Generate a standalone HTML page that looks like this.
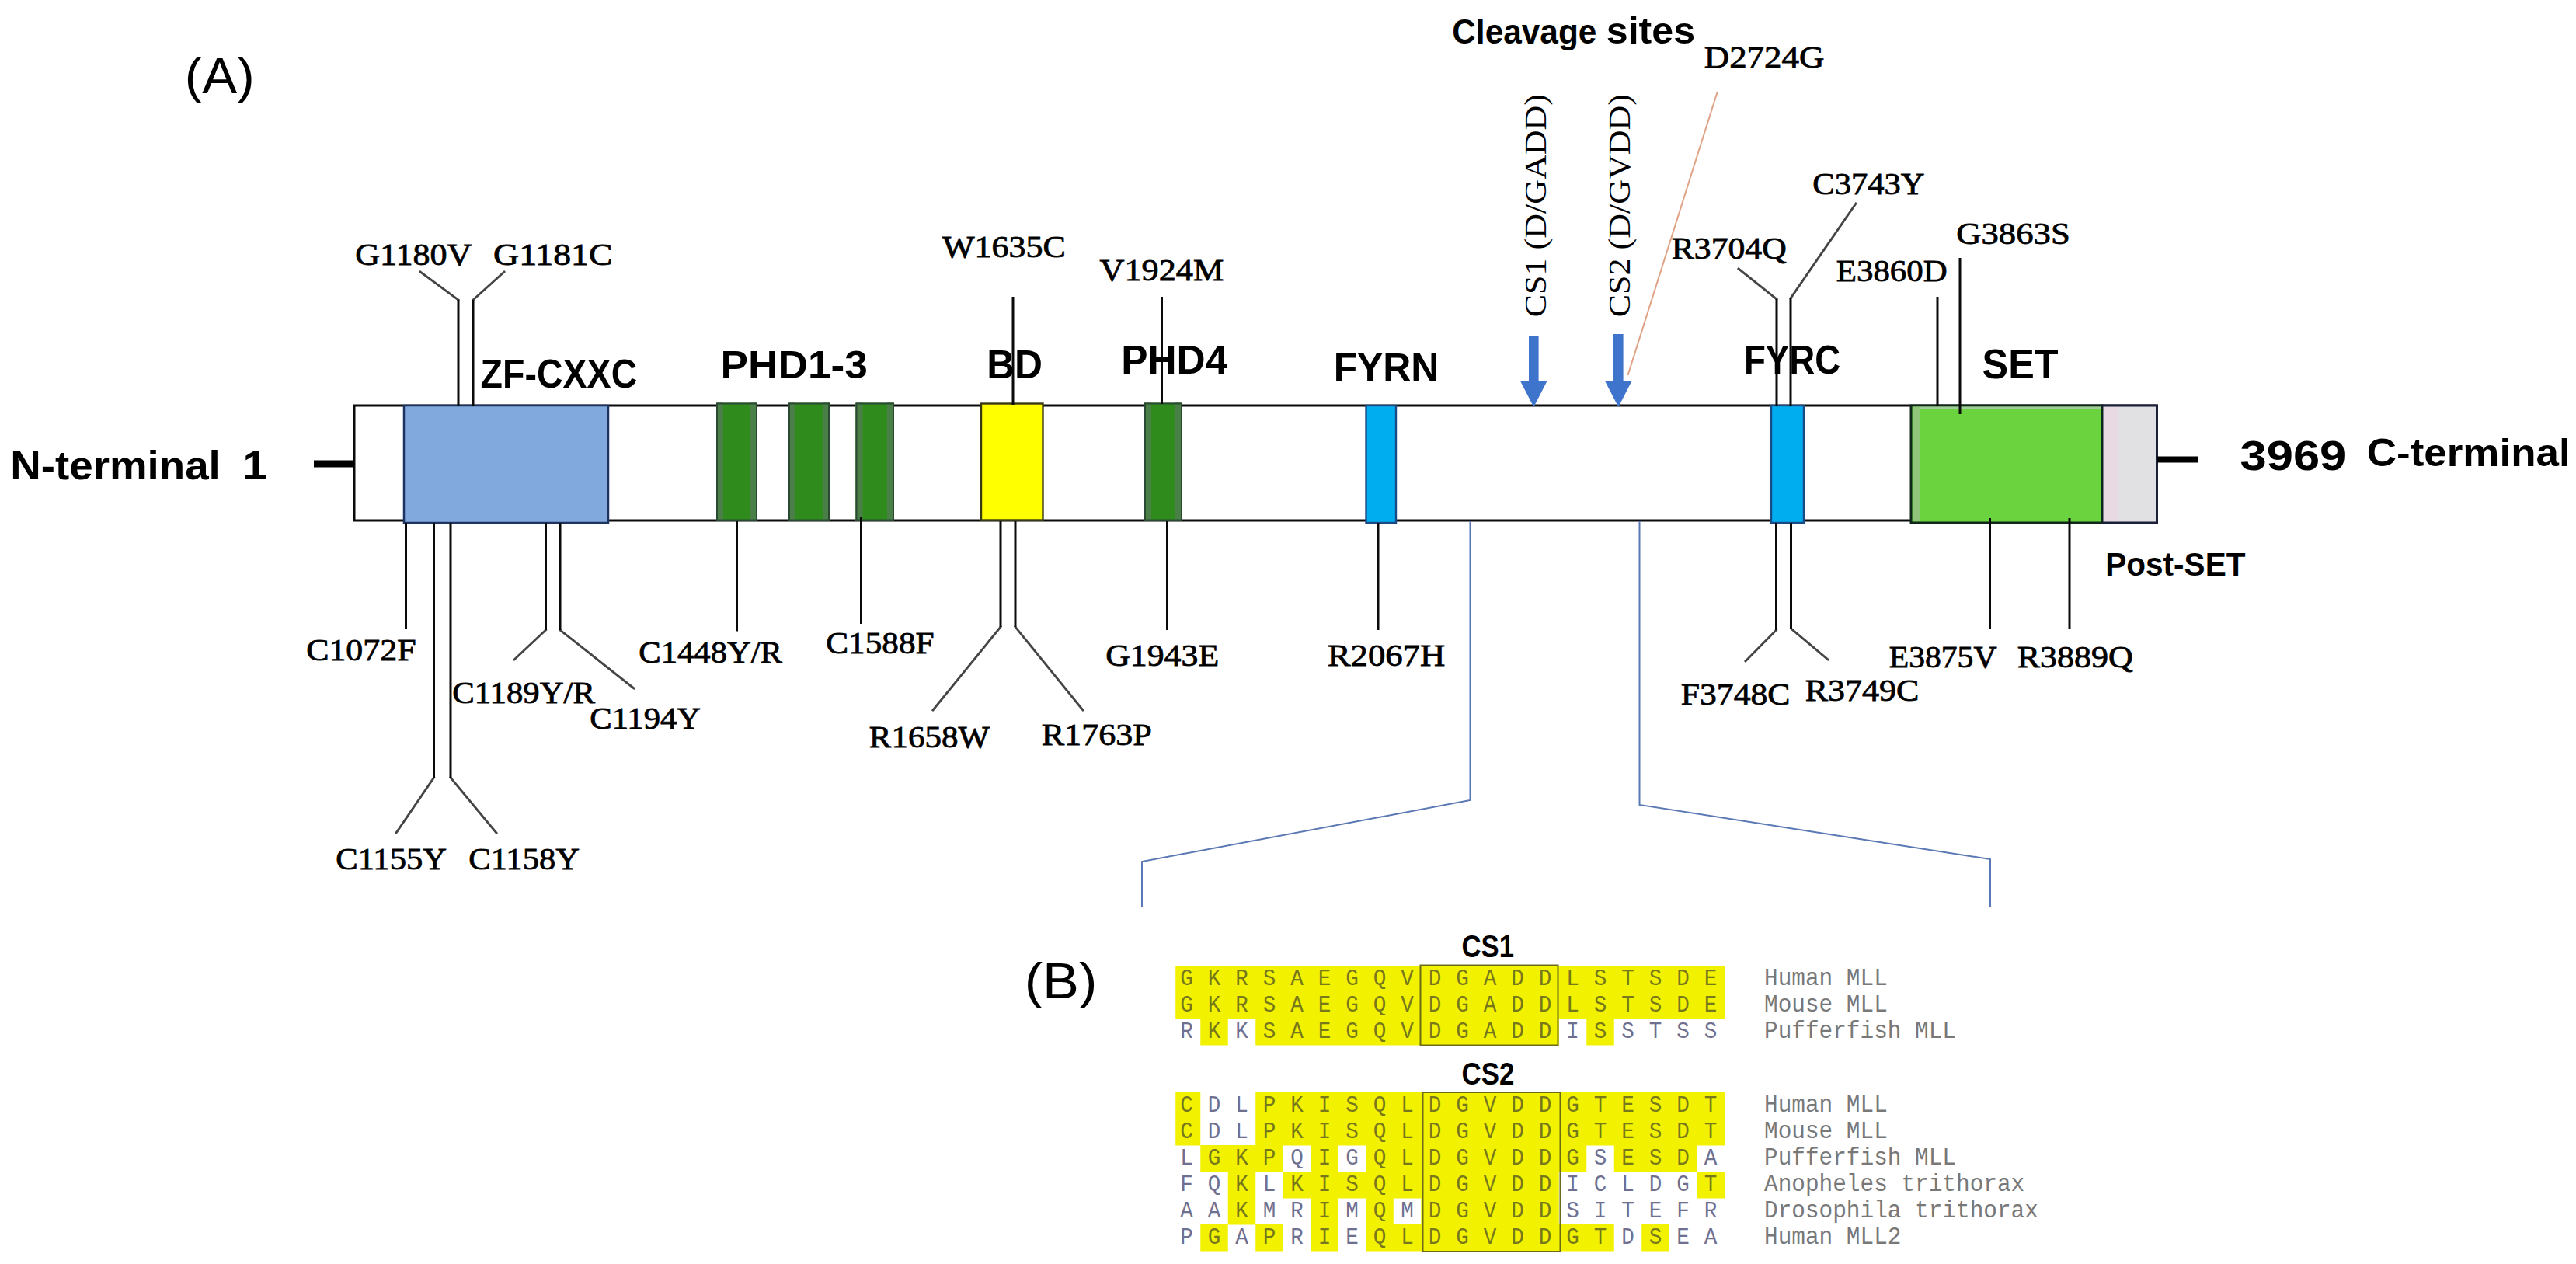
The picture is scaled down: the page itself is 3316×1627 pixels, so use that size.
<!DOCTYPE html>
<html><head><meta charset="utf-8"><title>MLL domain structure</title>
<style>
html,body{margin:0;padding:0;background:#fff;}
body{width:3316px;height:1627px;overflow:hidden;font-family:"Liberation Sans",sans-serif;}
svg{display:block;}
text{white-space:pre;}
</style></head><body>
<svg width="3316" height="1627" viewBox="0 0 3316 1627">
<rect width="3316" height="1627" fill="#fff"/>
<rect x="456" y="522" width="2320" height="148" fill="#fff" stroke="#0a0a0a" stroke-width="3" />
<rect x="520" y="522" width="263" height="151" fill="#82a9dd" stroke="#1d3461" stroke-width="2.5" />
<rect x="922" y="518.5" width="53" height="151.5" fill="#2f8c1c"  />
<rect x="922" y="518.5" width="9" height="151.5" fill="#4a8048"  />
<rect x="966" y="518.5" width="9" height="151.5" fill="#4a8048"  />
<rect x="923" y="519.5" width="51" height="150.0" fill="none" stroke="#2b4a34" stroke-width="2" />
<rect x="1015" y="518.5" width="53" height="151.5" fill="#2f8c1c"  />
<rect x="1015" y="518.5" width="9" height="151.5" fill="#4a8048"  />
<rect x="1059" y="518.5" width="9" height="151.5" fill="#4a8048"  />
<rect x="1016" y="519.5" width="51" height="150.0" fill="none" stroke="#2b4a34" stroke-width="2" />
<rect x="1101.5" y="518.5" width="49.5" height="151.5" fill="#2f8c1c"  />
<rect x="1101.5" y="518.5" width="9.0" height="151.5" fill="#4a8048"  />
<rect x="1142" y="518.5" width="9" height="151.5" fill="#4a8048"  />
<rect x="1102.5" y="519.5" width="47.5" height="150.0" fill="none" stroke="#2b4a34" stroke-width="2" />
<rect x="1473" y="518.5" width="49" height="151.5" fill="#2f8c1c"  />
<rect x="1473" y="518.5" width="9" height="151.5" fill="#4a8048"  />
<rect x="1513" y="518.5" width="9" height="151.5" fill="#4a8048"  />
<rect x="1474" y="519.5" width="47" height="150.0" fill="none" stroke="#2b4a34" stroke-width="2" />
<rect x="1263" y="519.5" width="79.5" height="150.0" fill="#ffff00" stroke="#3a3a14" stroke-width="2.4" />
<rect x="1758.5" y="522" width="38.5" height="151" fill="#00adef" stroke="#1a4a86" stroke-width="2.4" />
<rect x="2280" y="522" width="42" height="151" fill="#00adef" stroke="#1a4a86" stroke-width="2.4" />
<rect x="2460" y="522" width="246" height="151" fill="#6bd33d" stroke="#10281a" stroke-width="3" />
<rect x="2462" y="523.5" width="242" height="3.5" fill="#a3c99c"  />
<rect x="2462" y="524" width="10" height="147" fill="#8fc47a"  />
<rect x="2706" y="522" width="70.5" height="151" fill="#e1e0e2" stroke="#1a1f3a" stroke-width="3" />
<rect x="2708" y="524" width="18" height="147" fill="#e8d9e3"  />
<line x1="2705.5" y1="522" x2="2705.5" y2="673" stroke="#10281a" stroke-width="3" />
<line x1="404" y1="597" x2="456" y2="597" stroke="#000" stroke-width="9" />
<line x1="2777" y1="591.5" x2="2829" y2="591.5" stroke="#000" stroke-width="8" />
<line x1="541" y1="350" x2="590" y2="386" stroke="#454545" stroke-width="2.9" stroke-linecap="square"/>
<polyline points="590,386 590,522" fill="none" stroke="#0a0a0a" stroke-width="3"/>
<line x1="649" y1="350" x2="609" y2="386" stroke="#454545" stroke-width="2.9" stroke-linecap="square"/>
<polyline points="609,386 609,522" fill="none" stroke="#0a0a0a" stroke-width="3"/>
<line x1="1304" y1="382" x2="1304" y2="521" stroke="#0a0a0a" stroke-width="3" />
<line x1="1495.5" y1="382" x2="1495.5" y2="520" stroke="#0a0a0a" stroke-width="3" />
<line x1="2238" y1="346" x2="2287" y2="385" stroke="#454545" stroke-width="2.9" stroke-linecap="square"/>
<polyline points="2287,385 2287,522" fill="none" stroke="#0a0a0a" stroke-width="3"/>
<line x1="2389" y1="262" x2="2305" y2="384" stroke="#454545" stroke-width="2.9" stroke-linecap="square"/>
<polyline points="2305,384 2305,522" fill="none" stroke="#0a0a0a" stroke-width="3"/>
<line x1="2494" y1="382" x2="2494" y2="522" stroke="#0a0a0a" stroke-width="3" />
<line x1="2523" y1="332" x2="2523" y2="533" stroke="#0a0a0a" stroke-width="3" />
<line x1="522.5" y1="673" x2="522.5" y2="810" stroke="#0a0a0a" stroke-width="3" />
<line x1="510" y1="1072" x2="558.5" y2="1001" stroke="#454545" stroke-width="2.9" stroke-linecap="square"/>
<polyline points="558.5,1001 558.5,673" fill="none" stroke="#0a0a0a" stroke-width="3"/>
<line x1="639" y1="1072" x2="580" y2="1001" stroke="#454545" stroke-width="2.9" stroke-linecap="square"/>
<polyline points="580,1001 580,673" fill="none" stroke="#0a0a0a" stroke-width="3"/>
<line x1="662" y1="849" x2="702.5" y2="811" stroke="#454545" stroke-width="2.9" stroke-linecap="square"/>
<polyline points="702.5,811 702.5,673" fill="none" stroke="#0a0a0a" stroke-width="3"/>
<line x1="816" y1="886" x2="721" y2="811" stroke="#454545" stroke-width="2.9" stroke-linecap="square"/>
<polyline points="721,811 721,673" fill="none" stroke="#0a0a0a" stroke-width="3"/>
<line x1="948.5" y1="670" x2="948.5" y2="812.5" stroke="#0a0a0a" stroke-width="3" />
<line x1="1108.5" y1="665" x2="1108.5" y2="803" stroke="#0a0a0a" stroke-width="3" />
<line x1="1201" y1="914" x2="1288" y2="807" stroke="#454545" stroke-width="2.9" stroke-linecap="square"/>
<polyline points="1288,807 1288,670" fill="none" stroke="#0a0a0a" stroke-width="3"/>
<line x1="1394" y1="914" x2="1307" y2="807" stroke="#454545" stroke-width="2.9" stroke-linecap="square"/>
<polyline points="1307,807 1307,670" fill="none" stroke="#0a0a0a" stroke-width="3"/>
<line x1="1502.5" y1="670" x2="1502.5" y2="811" stroke="#0a0a0a" stroke-width="3" />
<line x1="1774" y1="673" x2="1774" y2="811" stroke="#0a0a0a" stroke-width="3" />
<line x1="2247" y1="851" x2="2286.5" y2="811" stroke="#454545" stroke-width="2.9" stroke-linecap="square"/>
<polyline points="2286.5,811 2286.5,673" fill="none" stroke="#0a0a0a" stroke-width="3"/>
<line x1="2353" y1="849" x2="2305.5" y2="809" stroke="#454545" stroke-width="2.9" stroke-linecap="square"/>
<polyline points="2305.5,809 2305.5,673" fill="none" stroke="#0a0a0a" stroke-width="3"/>
<line x1="2561.5" y1="667" x2="2561.5" y2="809.5" stroke="#0a0a0a" stroke-width="3" />
<line x1="2664" y1="667" x2="2664" y2="809.5" stroke="#0a0a0a" stroke-width="3" />
<polyline points="1892.5,671 1892.5,1030 1470,1109 1470,1167" fill="none" stroke="#5a78b4" stroke-width="2" />
<polyline points="2110.5,671 2110.5,1036 2562,1106 2562,1167" fill="none" stroke="#5a78b4" stroke-width="2" />
<line x1="2210.5" y1="119" x2="2095.5" y2="483" stroke="#e0a285" stroke-width="2" />
<path d="M1968.0,432 H1980.6 V490 H1991.8 L1974.3,524 L1956.8,490 H1968.0 Z" fill="#3f74cd"/>
<path d="M2077.0,430 H2089.6000000000004 V490 H2100.8 L2083.3,524 L2065.8,490 H2077.0 Z" fill="#3f74cd"/>
<text transform="translate(237.82,120.00) scale(1.0422,1)" font-family="Liberation Sans" font-weight="normal" font-size="64.68" fill="#000" >(A)</text>
<text transform="translate(1318.64,1285.00) scale(1.0870,1)" font-family="Liberation Sans" font-weight="normal" font-size="64.68" fill="#000" >(B)</text>
<text transform="translate(13.34,617.00) scale(1.0455,1)" font-family="Liberation Sans" font-weight="bold" font-size="52.33" fill="#000" >N-terminal</text>
<text transform="translate(312.48,617.00) scale(1.0678,1)" font-family="Liberation Sans" font-weight="bold" font-size="52.33" fill="#000" >1</text>
<text transform="translate(618.61,499.00) scale(0.9148,1)" font-family="Liberation Sans" font-weight="bold" font-size="50.87" fill="#000" >ZF-CXXC</text>
<text transform="translate(927.44,487.00) scale(1.0473,1)" font-family="Liberation Sans" font-weight="bold" font-size="50.87" fill="#000" >PHD1-3</text>
<text transform="translate(1270.17,486.70) scale(0.9651,1)" font-family="Liberation Sans" font-weight="bold" font-size="51.60" fill="#000" >BD</text>
<text transform="translate(1443.26,480.70) scale(0.9954,1)" font-family="Liberation Sans" font-weight="bold" font-size="51.60" fill="#000" >PHD4</text>
<text transform="translate(1716.67,490.00) scale(0.9799,1)" font-family="Liberation Sans" font-weight="bold" font-size="50.87" fill="#000" >FYRN</text>
<text transform="translate(2244.95,481.00) scale(0.8850,1)" font-family="Liberation Sans" font-weight="bold" font-size="51.60" fill="#000" >FYRC</text>
<text transform="translate(2551.55,487.00) scale(0.9369,1)" font-family="Liberation Sans" font-weight="bold" font-size="53.78" fill="#000" >SET</text>
<text transform="translate(2883.59,605.00) scale(1.1425,1)" font-family="Liberation Sans" font-weight="bold" font-size="53.78" fill="#000" >3969</text>
<text transform="translate(3046.83,600.00) scale(1.0411,1)" font-family="Liberation Sans" font-weight="bold" font-size="50.87" fill="#000" >C-terminal</text>
<text transform="translate(2710.29,741.00) scale(0.9452,1)" font-family="Liberation Sans" font-weight="bold" font-size="42.88" fill="#000" >Post-SET</text>
<text transform="translate(1869.26,56.00) scale(0.9409,1)" font-family="Liberation Sans" font-weight="bold" font-size="45.06" fill="#000" >Cleavage</text>
<text transform="translate(2067.74,56.00) scale(1.0449,1)" font-family="Liberation Sans" font-weight="bold" font-size="48.00" fill="#000" >sites</text>
<text transform="translate(1881.58,1232.00) scale(0.8511,1)" font-family="Liberation Sans" font-weight="bold" font-size="40.70" fill="#000" >CS1</text>
<text transform="translate(1881.57,1396.00) scale(0.8567,1)" font-family="Liberation Sans" font-weight="bold" font-size="40.70" fill="#000" >CS2</text>
<text transform="translate(457.19,340.80) scale(1.0892,1)" font-family="Liberation Serif" font-weight="normal" font-size="40.50" fill="#000" stroke="#000" stroke-width="0.8">G1180V</text>
<text transform="translate(635.12,340.80) scale(1.1300,1)" font-family="Liberation Serif" font-weight="normal" font-size="40.50" fill="#000" stroke="#000" stroke-width="0.8">G1181C</text>
<text transform="translate(1212.96,331.00) scale(1.0871,1)" font-family="Liberation Serif" font-weight="normal" font-size="40.50" fill="#000" stroke="#000" stroke-width="0.8">W1635C</text>
<text transform="translate(1415.50,361.00) scale(1.0925,1)" font-family="Liberation Serif" font-weight="normal" font-size="40.50" fill="#000" stroke="#000" stroke-width="0.8">V1924M</text>
<text transform="translate(2193.71,86.60) scale(1.1090,1)" font-family="Liberation Serif" font-weight="normal" font-size="40.50" fill="#000" stroke="#000" stroke-width="0.8">D2724G</text>
<text transform="translate(2333.25,250.00) scale(1.0515,1)" font-family="Liberation Serif" font-weight="normal" font-size="40.50" fill="#000" stroke="#000" stroke-width="0.8">C3743Y</text>
<text transform="translate(2151.74,333.00) scale(1.0783,1)" font-family="Liberation Serif" font-weight="normal" font-size="40.50" fill="#000" stroke="#000" stroke-width="0.8">R3704Q</text>
<text transform="translate(2363.76,362.00) scale(1.0590,1)" font-family="Liberation Serif" font-weight="normal" font-size="40.50" fill="#000" stroke="#000" stroke-width="0.8">E3860D</text>
<text transform="translate(2518.17,314.00) scale(1.1042,1)" font-family="Liberation Serif" font-weight="normal" font-size="40.50" fill="#000" stroke="#000" stroke-width="0.8">G3863S</text>
<text transform="translate(394.20,850.00) scale(1.0831,1)" font-family="Liberation Serif" font-weight="normal" font-size="40.50" fill="#000" stroke="#000" stroke-width="0.8">C1072F</text>
<text transform="translate(582.25,905.00) scale(1.0563,1)" font-family="Liberation Serif" font-weight="normal" font-size="40.50" fill="#000" stroke="#000" stroke-width="0.8">C1189Y/R</text>
<text transform="translate(759.25,938.00) scale(1.0521,1)" font-family="Liberation Serif" font-weight="normal" font-size="40.50" fill="#000" stroke="#000" stroke-width="0.8">C1194Y</text>
<text transform="translate(432.25,1119.00) scale(1.0521,1)" font-family="Liberation Serif" font-weight="normal" font-size="40.50" fill="#000" stroke="#000" stroke-width="0.8">C1155Y</text>
<text transform="translate(603.25,1119.00) scale(1.0521,1)" font-family="Liberation Serif" font-weight="normal" font-size="40.50" fill="#000" stroke="#000" stroke-width="0.8">C1158Y</text>
<text transform="translate(822.25,853.00) scale(1.0529,1)" font-family="Liberation Serif" font-weight="normal" font-size="40.50" fill="#000" stroke="#000" stroke-width="0.8">C1448Y/R</text>
<text transform="translate(1063.23,841.20) scale(1.0674,1)" font-family="Liberation Serif" font-weight="normal" font-size="40.50" fill="#000" stroke="#000" stroke-width="0.8">C1588F</text>
<text transform="translate(1118.76,962.00) scale(1.0621,1)" font-family="Liberation Serif" font-weight="normal" font-size="40.50" fill="#000" stroke="#000" stroke-width="0.8">R1658W</text>
<text transform="translate(1340.73,959.00) scale(1.0881,1)" font-family="Liberation Serif" font-weight="normal" font-size="40.50" fill="#000" stroke="#000" stroke-width="0.8">R1763P</text>
<text transform="translate(1423.20,857.00) scale(1.0814,1)" font-family="Liberation Serif" font-weight="normal" font-size="40.50" fill="#000" stroke="#000" stroke-width="0.8">G1943E</text>
<text transform="translate(1708.71,857.00) scale(1.1045,1)" font-family="Liberation Serif" font-weight="normal" font-size="40.50" fill="#000" stroke="#000" stroke-width="0.8">R2067H</text>
<text transform="translate(2163.74,907.00) scale(1.0776,1)" font-family="Liberation Serif" font-weight="normal" font-size="40.50" fill="#000" stroke="#000" stroke-width="0.8">F3748C</text>
<text transform="translate(2323.73,902.00) scale(1.0864,1)" font-family="Liberation Serif" font-weight="normal" font-size="40.50" fill="#000" stroke="#000" stroke-width="0.8">R3749C</text>
<text transform="translate(2431.80,859.00) scale(1.0273,1)" font-family="Liberation Serif" font-weight="normal" font-size="40.50" fill="#000" stroke="#000" stroke-width="0.8">E3875V</text>
<text transform="translate(2596.73,859.00) scale(1.0857,1)" font-family="Liberation Serif" font-weight="normal" font-size="40.50" fill="#000" stroke="#000" stroke-width="0.8">R3889Q</text>
<text transform="translate(1989.50,408.30) rotate(-90) scale(1.0732,1)" font-family="Liberation Serif" font-weight="normal" font-size="41.00" fill="#000">CS1 (D/GADD)</text>
<text transform="translate(2097.50,408.30) rotate(-90) scale(1.0732,1)" font-family="Liberation Serif" font-weight="normal" font-size="41.00" fill="#000">CS2 (D/GVDD)</text>
<rect x="1513.25" y="1243.00" width="707.50" height="34.50" fill="#f2f200"/>
<rect x="1513.25" y="1277.00" width="707.50" height="34.50" fill="#f2f200"/>
<rect x="1545.25" y="1311.00" width="35.50" height="34.50" fill="#f2f200"/>
<rect x="1616.25" y="1311.00" width="390.50" height="34.50" fill="#f2f200"/>
<rect x="2042.25" y="1311.00" width="35.50" height="34.50" fill="#f2f200"/>
<text x="1527.50" y="1268.00" text-anchor="middle" font-family="Liberation Mono" font-size="30" fill="#77771c" transform="translate(1527.50,0) scale(0.92,1) translate(-1527.50,0)">G</text>
<text x="1563.00" y="1268.00" text-anchor="middle" font-family="Liberation Mono" font-size="30" fill="#77771c" transform="translate(1563.00,0) scale(0.92,1) translate(-1563.00,0)">K</text>
<text x="1598.50" y="1268.00" text-anchor="middle" font-family="Liberation Mono" font-size="30" fill="#77771c" transform="translate(1598.50,0) scale(0.92,1) translate(-1598.50,0)">R</text>
<text x="1634.00" y="1268.00" text-anchor="middle" font-family="Liberation Mono" font-size="30" fill="#77771c" transform="translate(1634.00,0) scale(0.92,1) translate(-1634.00,0)">S</text>
<text x="1669.50" y="1268.00" text-anchor="middle" font-family="Liberation Mono" font-size="30" fill="#77771c" transform="translate(1669.50,0) scale(0.92,1) translate(-1669.50,0)">A</text>
<text x="1705.00" y="1268.00" text-anchor="middle" font-family="Liberation Mono" font-size="30" fill="#77771c" transform="translate(1705.00,0) scale(0.92,1) translate(-1705.00,0)">E</text>
<text x="1740.50" y="1268.00" text-anchor="middle" font-family="Liberation Mono" font-size="30" fill="#77771c" transform="translate(1740.50,0) scale(0.92,1) translate(-1740.50,0)">G</text>
<text x="1776.00" y="1268.00" text-anchor="middle" font-family="Liberation Mono" font-size="30" fill="#77771c" transform="translate(1776.00,0) scale(0.92,1) translate(-1776.00,0)">Q</text>
<text x="1811.50" y="1268.00" text-anchor="middle" font-family="Liberation Mono" font-size="30" fill="#77771c" transform="translate(1811.50,0) scale(0.92,1) translate(-1811.50,0)">V</text>
<text x="1847.00" y="1268.00" text-anchor="middle" font-family="Liberation Mono" font-size="30" fill="#77771c" transform="translate(1847.00,0) scale(0.92,1) translate(-1847.00,0)">D</text>
<text x="1882.50" y="1268.00" text-anchor="middle" font-family="Liberation Mono" font-size="30" fill="#77771c" transform="translate(1882.50,0) scale(0.92,1) translate(-1882.50,0)">G</text>
<text x="1918.00" y="1268.00" text-anchor="middle" font-family="Liberation Mono" font-size="30" fill="#77771c" transform="translate(1918.00,0) scale(0.92,1) translate(-1918.00,0)">A</text>
<text x="1953.50" y="1268.00" text-anchor="middle" font-family="Liberation Mono" font-size="30" fill="#77771c" transform="translate(1953.50,0) scale(0.92,1) translate(-1953.50,0)">D</text>
<text x="1989.00" y="1268.00" text-anchor="middle" font-family="Liberation Mono" font-size="30" fill="#77771c" transform="translate(1989.00,0) scale(0.92,1) translate(-1989.00,0)">D</text>
<text x="2024.50" y="1268.00" text-anchor="middle" font-family="Liberation Mono" font-size="30" fill="#77771c" transform="translate(2024.50,0) scale(0.92,1) translate(-2024.50,0)">L</text>
<text x="2060.00" y="1268.00" text-anchor="middle" font-family="Liberation Mono" font-size="30" fill="#77771c" transform="translate(2060.00,0) scale(0.92,1) translate(-2060.00,0)">S</text>
<text x="2095.50" y="1268.00" text-anchor="middle" font-family="Liberation Mono" font-size="30" fill="#77771c" transform="translate(2095.50,0) scale(0.92,1) translate(-2095.50,0)">T</text>
<text x="2131.00" y="1268.00" text-anchor="middle" font-family="Liberation Mono" font-size="30" fill="#77771c" transform="translate(2131.00,0) scale(0.92,1) translate(-2131.00,0)">S</text>
<text x="2166.50" y="1268.00" text-anchor="middle" font-family="Liberation Mono" font-size="30" fill="#77771c" transform="translate(2166.50,0) scale(0.92,1) translate(-2166.50,0)">D</text>
<text x="2202.00" y="1268.00" text-anchor="middle" font-family="Liberation Mono" font-size="30" fill="#77771c" transform="translate(2202.00,0) scale(0.92,1) translate(-2202.00,0)">E</text>
<text transform="translate(2271,1268.00) scale(0.9488,1)" font-family="Liberation Mono" font-size="31" fill="#787878">Human MLL</text>
<text x="1527.50" y="1302.00" text-anchor="middle" font-family="Liberation Mono" font-size="30" fill="#77771c" transform="translate(1527.50,0) scale(0.92,1) translate(-1527.50,0)">G</text>
<text x="1563.00" y="1302.00" text-anchor="middle" font-family="Liberation Mono" font-size="30" fill="#77771c" transform="translate(1563.00,0) scale(0.92,1) translate(-1563.00,0)">K</text>
<text x="1598.50" y="1302.00" text-anchor="middle" font-family="Liberation Mono" font-size="30" fill="#77771c" transform="translate(1598.50,0) scale(0.92,1) translate(-1598.50,0)">R</text>
<text x="1634.00" y="1302.00" text-anchor="middle" font-family="Liberation Mono" font-size="30" fill="#77771c" transform="translate(1634.00,0) scale(0.92,1) translate(-1634.00,0)">S</text>
<text x="1669.50" y="1302.00" text-anchor="middle" font-family="Liberation Mono" font-size="30" fill="#77771c" transform="translate(1669.50,0) scale(0.92,1) translate(-1669.50,0)">A</text>
<text x="1705.00" y="1302.00" text-anchor="middle" font-family="Liberation Mono" font-size="30" fill="#77771c" transform="translate(1705.00,0) scale(0.92,1) translate(-1705.00,0)">E</text>
<text x="1740.50" y="1302.00" text-anchor="middle" font-family="Liberation Mono" font-size="30" fill="#77771c" transform="translate(1740.50,0) scale(0.92,1) translate(-1740.50,0)">G</text>
<text x="1776.00" y="1302.00" text-anchor="middle" font-family="Liberation Mono" font-size="30" fill="#77771c" transform="translate(1776.00,0) scale(0.92,1) translate(-1776.00,0)">Q</text>
<text x="1811.50" y="1302.00" text-anchor="middle" font-family="Liberation Mono" font-size="30" fill="#77771c" transform="translate(1811.50,0) scale(0.92,1) translate(-1811.50,0)">V</text>
<text x="1847.00" y="1302.00" text-anchor="middle" font-family="Liberation Mono" font-size="30" fill="#77771c" transform="translate(1847.00,0) scale(0.92,1) translate(-1847.00,0)">D</text>
<text x="1882.50" y="1302.00" text-anchor="middle" font-family="Liberation Mono" font-size="30" fill="#77771c" transform="translate(1882.50,0) scale(0.92,1) translate(-1882.50,0)">G</text>
<text x="1918.00" y="1302.00" text-anchor="middle" font-family="Liberation Mono" font-size="30" fill="#77771c" transform="translate(1918.00,0) scale(0.92,1) translate(-1918.00,0)">A</text>
<text x="1953.50" y="1302.00" text-anchor="middle" font-family="Liberation Mono" font-size="30" fill="#77771c" transform="translate(1953.50,0) scale(0.92,1) translate(-1953.50,0)">D</text>
<text x="1989.00" y="1302.00" text-anchor="middle" font-family="Liberation Mono" font-size="30" fill="#77771c" transform="translate(1989.00,0) scale(0.92,1) translate(-1989.00,0)">D</text>
<text x="2024.50" y="1302.00" text-anchor="middle" font-family="Liberation Mono" font-size="30" fill="#77771c" transform="translate(2024.50,0) scale(0.92,1) translate(-2024.50,0)">L</text>
<text x="2060.00" y="1302.00" text-anchor="middle" font-family="Liberation Mono" font-size="30" fill="#77771c" transform="translate(2060.00,0) scale(0.92,1) translate(-2060.00,0)">S</text>
<text x="2095.50" y="1302.00" text-anchor="middle" font-family="Liberation Mono" font-size="30" fill="#77771c" transform="translate(2095.50,0) scale(0.92,1) translate(-2095.50,0)">T</text>
<text x="2131.00" y="1302.00" text-anchor="middle" font-family="Liberation Mono" font-size="30" fill="#77771c" transform="translate(2131.00,0) scale(0.92,1) translate(-2131.00,0)">S</text>
<text x="2166.50" y="1302.00" text-anchor="middle" font-family="Liberation Mono" font-size="30" fill="#77771c" transform="translate(2166.50,0) scale(0.92,1) translate(-2166.50,0)">D</text>
<text x="2202.00" y="1302.00" text-anchor="middle" font-family="Liberation Mono" font-size="30" fill="#77771c" transform="translate(2202.00,0) scale(0.92,1) translate(-2202.00,0)">E</text>
<text transform="translate(2271,1302.00) scale(0.9488,1)" font-family="Liberation Mono" font-size="31" fill="#787878">Mouse MLL</text>
<text x="1527.50" y="1336.00" text-anchor="middle" font-family="Liberation Mono" font-size="30" fill="#6f6f8f" transform="translate(1527.50,0) scale(0.92,1) translate(-1527.50,0)">R</text>
<text x="1563.00" y="1336.00" text-anchor="middle" font-family="Liberation Mono" font-size="30" fill="#77771c" transform="translate(1563.00,0) scale(0.92,1) translate(-1563.00,0)">K</text>
<text x="1598.50" y="1336.00" text-anchor="middle" font-family="Liberation Mono" font-size="30" fill="#6f6f8f" transform="translate(1598.50,0) scale(0.92,1) translate(-1598.50,0)">K</text>
<text x="1634.00" y="1336.00" text-anchor="middle" font-family="Liberation Mono" font-size="30" fill="#77771c" transform="translate(1634.00,0) scale(0.92,1) translate(-1634.00,0)">S</text>
<text x="1669.50" y="1336.00" text-anchor="middle" font-family="Liberation Mono" font-size="30" fill="#77771c" transform="translate(1669.50,0) scale(0.92,1) translate(-1669.50,0)">A</text>
<text x="1705.00" y="1336.00" text-anchor="middle" font-family="Liberation Mono" font-size="30" fill="#77771c" transform="translate(1705.00,0) scale(0.92,1) translate(-1705.00,0)">E</text>
<text x="1740.50" y="1336.00" text-anchor="middle" font-family="Liberation Mono" font-size="30" fill="#77771c" transform="translate(1740.50,0) scale(0.92,1) translate(-1740.50,0)">G</text>
<text x="1776.00" y="1336.00" text-anchor="middle" font-family="Liberation Mono" font-size="30" fill="#77771c" transform="translate(1776.00,0) scale(0.92,1) translate(-1776.00,0)">Q</text>
<text x="1811.50" y="1336.00" text-anchor="middle" font-family="Liberation Mono" font-size="30" fill="#77771c" transform="translate(1811.50,0) scale(0.92,1) translate(-1811.50,0)">V</text>
<text x="1847.00" y="1336.00" text-anchor="middle" font-family="Liberation Mono" font-size="30" fill="#77771c" transform="translate(1847.00,0) scale(0.92,1) translate(-1847.00,0)">D</text>
<text x="1882.50" y="1336.00" text-anchor="middle" font-family="Liberation Mono" font-size="30" fill="#77771c" transform="translate(1882.50,0) scale(0.92,1) translate(-1882.50,0)">G</text>
<text x="1918.00" y="1336.00" text-anchor="middle" font-family="Liberation Mono" font-size="30" fill="#77771c" transform="translate(1918.00,0) scale(0.92,1) translate(-1918.00,0)">A</text>
<text x="1953.50" y="1336.00" text-anchor="middle" font-family="Liberation Mono" font-size="30" fill="#77771c" transform="translate(1953.50,0) scale(0.92,1) translate(-1953.50,0)">D</text>
<text x="1989.00" y="1336.00" text-anchor="middle" font-family="Liberation Mono" font-size="30" fill="#77771c" transform="translate(1989.00,0) scale(0.92,1) translate(-1989.00,0)">D</text>
<text x="2024.50" y="1336.00" text-anchor="middle" font-family="Liberation Mono" font-size="30" fill="#6f6f8f" transform="translate(2024.50,0) scale(0.92,1) translate(-2024.50,0)">I</text>
<text x="2060.00" y="1336.00" text-anchor="middle" font-family="Liberation Mono" font-size="30" fill="#77771c" transform="translate(2060.00,0) scale(0.92,1) translate(-2060.00,0)">S</text>
<text x="2095.50" y="1336.00" text-anchor="middle" font-family="Liberation Mono" font-size="30" fill="#6f6f8f" transform="translate(2095.50,0) scale(0.92,1) translate(-2095.50,0)">S</text>
<text x="2131.00" y="1336.00" text-anchor="middle" font-family="Liberation Mono" font-size="30" fill="#6f6f8f" transform="translate(2131.00,0) scale(0.92,1) translate(-2131.00,0)">T</text>
<text x="2166.50" y="1336.00" text-anchor="middle" font-family="Liberation Mono" font-size="30" fill="#6f6f8f" transform="translate(2166.50,0) scale(0.92,1) translate(-2166.50,0)">S</text>
<text x="2202.00" y="1336.00" text-anchor="middle" font-family="Liberation Mono" font-size="30" fill="#6f6f8f" transform="translate(2202.00,0) scale(0.92,1) translate(-2202.00,0)">S</text>
<text transform="translate(2271,1336.00) scale(0.9488,1)" font-family="Liberation Mono" font-size="31" fill="#787878">Pufferfish MLL</text>
<rect x="1828.5" y="1242.5" width="177.0" height="103.0" fill="none" stroke="#6b6b18" stroke-width="2" />
<rect x="1513.25" y="1406.00" width="32.00" height="34.50" fill="#f2f200"/>
<rect x="1616.25" y="1406.00" width="604.50" height="34.50" fill="#f2f200"/>
<rect x="1513.25" y="1440.00" width="32.00" height="34.50" fill="#f2f200"/>
<rect x="1616.25" y="1440.00" width="604.50" height="34.50" fill="#f2f200"/>
<rect x="1545.25" y="1474.00" width="106.50" height="34.50" fill="#f2f200"/>
<rect x="1687.25" y="1474.00" width="35.50" height="34.50" fill="#f2f200"/>
<rect x="1758.25" y="1474.00" width="284.00" height="34.50" fill="#f2f200"/>
<rect x="2077.75" y="1474.00" width="106.50" height="34.50" fill="#f2f200"/>
<rect x="1580.75" y="1508.00" width="35.50" height="34.50" fill="#f2f200"/>
<rect x="1651.75" y="1508.00" width="355.00" height="34.50" fill="#f2f200"/>
<rect x="2184.25" y="1508.00" width="36.50" height="34.50" fill="#f2f200"/>
<rect x="1580.75" y="1542.00" width="35.50" height="34.50" fill="#f2f200"/>
<rect x="1687.25" y="1542.00" width="35.50" height="34.50" fill="#f2f200"/>
<rect x="1758.25" y="1542.00" width="35.50" height="34.50" fill="#f2f200"/>
<rect x="1829.25" y="1542.00" width="177.50" height="34.50" fill="#f2f200"/>
<rect x="1545.25" y="1576.00" width="35.50" height="34.50" fill="#f2f200"/>
<rect x="1616.25" y="1576.00" width="35.50" height="34.50" fill="#f2f200"/>
<rect x="1687.25" y="1576.00" width="35.50" height="34.50" fill="#f2f200"/>
<rect x="1758.25" y="1576.00" width="319.50" height="34.50" fill="#f2f200"/>
<rect x="2113.25" y="1576.00" width="35.50" height="34.50" fill="#f2f200"/>
<text x="1527.50" y="1431.00" text-anchor="middle" font-family="Liberation Mono" font-size="30" fill="#77771c" transform="translate(1527.50,0) scale(0.92,1) translate(-1527.50,0)">C</text>
<text x="1563.00" y="1431.00" text-anchor="middle" font-family="Liberation Mono" font-size="30" fill="#6f6f8f" transform="translate(1563.00,0) scale(0.92,1) translate(-1563.00,0)">D</text>
<text x="1598.50" y="1431.00" text-anchor="middle" font-family="Liberation Mono" font-size="30" fill="#6f6f8f" transform="translate(1598.50,0) scale(0.92,1) translate(-1598.50,0)">L</text>
<text x="1634.00" y="1431.00" text-anchor="middle" font-family="Liberation Mono" font-size="30" fill="#77771c" transform="translate(1634.00,0) scale(0.92,1) translate(-1634.00,0)">P</text>
<text x="1669.50" y="1431.00" text-anchor="middle" font-family="Liberation Mono" font-size="30" fill="#77771c" transform="translate(1669.50,0) scale(0.92,1) translate(-1669.50,0)">K</text>
<text x="1705.00" y="1431.00" text-anchor="middle" font-family="Liberation Mono" font-size="30" fill="#77771c" transform="translate(1705.00,0) scale(0.92,1) translate(-1705.00,0)">I</text>
<text x="1740.50" y="1431.00" text-anchor="middle" font-family="Liberation Mono" font-size="30" fill="#77771c" transform="translate(1740.50,0) scale(0.92,1) translate(-1740.50,0)">S</text>
<text x="1776.00" y="1431.00" text-anchor="middle" font-family="Liberation Mono" font-size="30" fill="#77771c" transform="translate(1776.00,0) scale(0.92,1) translate(-1776.00,0)">Q</text>
<text x="1811.50" y="1431.00" text-anchor="middle" font-family="Liberation Mono" font-size="30" fill="#77771c" transform="translate(1811.50,0) scale(0.92,1) translate(-1811.50,0)">L</text>
<text x="1847.00" y="1431.00" text-anchor="middle" font-family="Liberation Mono" font-size="30" fill="#77771c" transform="translate(1847.00,0) scale(0.92,1) translate(-1847.00,0)">D</text>
<text x="1882.50" y="1431.00" text-anchor="middle" font-family="Liberation Mono" font-size="30" fill="#77771c" transform="translate(1882.50,0) scale(0.92,1) translate(-1882.50,0)">G</text>
<text x="1918.00" y="1431.00" text-anchor="middle" font-family="Liberation Mono" font-size="30" fill="#77771c" transform="translate(1918.00,0) scale(0.92,1) translate(-1918.00,0)">V</text>
<text x="1953.50" y="1431.00" text-anchor="middle" font-family="Liberation Mono" font-size="30" fill="#77771c" transform="translate(1953.50,0) scale(0.92,1) translate(-1953.50,0)">D</text>
<text x="1989.00" y="1431.00" text-anchor="middle" font-family="Liberation Mono" font-size="30" fill="#77771c" transform="translate(1989.00,0) scale(0.92,1) translate(-1989.00,0)">D</text>
<text x="2024.50" y="1431.00" text-anchor="middle" font-family="Liberation Mono" font-size="30" fill="#77771c" transform="translate(2024.50,0) scale(0.92,1) translate(-2024.50,0)">G</text>
<text x="2060.00" y="1431.00" text-anchor="middle" font-family="Liberation Mono" font-size="30" fill="#77771c" transform="translate(2060.00,0) scale(0.92,1) translate(-2060.00,0)">T</text>
<text x="2095.50" y="1431.00" text-anchor="middle" font-family="Liberation Mono" font-size="30" fill="#77771c" transform="translate(2095.50,0) scale(0.92,1) translate(-2095.50,0)">E</text>
<text x="2131.00" y="1431.00" text-anchor="middle" font-family="Liberation Mono" font-size="30" fill="#77771c" transform="translate(2131.00,0) scale(0.92,1) translate(-2131.00,0)">S</text>
<text x="2166.50" y="1431.00" text-anchor="middle" font-family="Liberation Mono" font-size="30" fill="#77771c" transform="translate(2166.50,0) scale(0.92,1) translate(-2166.50,0)">D</text>
<text x="2202.00" y="1431.00" text-anchor="middle" font-family="Liberation Mono" font-size="30" fill="#77771c" transform="translate(2202.00,0) scale(0.92,1) translate(-2202.00,0)">T</text>
<text transform="translate(2271,1431.00) scale(0.9488,1)" font-family="Liberation Mono" font-size="31" fill="#787878">Human MLL</text>
<text x="1527.50" y="1465.00" text-anchor="middle" font-family="Liberation Mono" font-size="30" fill="#77771c" transform="translate(1527.50,0) scale(0.92,1) translate(-1527.50,0)">C</text>
<text x="1563.00" y="1465.00" text-anchor="middle" font-family="Liberation Mono" font-size="30" fill="#6f6f8f" transform="translate(1563.00,0) scale(0.92,1) translate(-1563.00,0)">D</text>
<text x="1598.50" y="1465.00" text-anchor="middle" font-family="Liberation Mono" font-size="30" fill="#6f6f8f" transform="translate(1598.50,0) scale(0.92,1) translate(-1598.50,0)">L</text>
<text x="1634.00" y="1465.00" text-anchor="middle" font-family="Liberation Mono" font-size="30" fill="#77771c" transform="translate(1634.00,0) scale(0.92,1) translate(-1634.00,0)">P</text>
<text x="1669.50" y="1465.00" text-anchor="middle" font-family="Liberation Mono" font-size="30" fill="#77771c" transform="translate(1669.50,0) scale(0.92,1) translate(-1669.50,0)">K</text>
<text x="1705.00" y="1465.00" text-anchor="middle" font-family="Liberation Mono" font-size="30" fill="#77771c" transform="translate(1705.00,0) scale(0.92,1) translate(-1705.00,0)">I</text>
<text x="1740.50" y="1465.00" text-anchor="middle" font-family="Liberation Mono" font-size="30" fill="#77771c" transform="translate(1740.50,0) scale(0.92,1) translate(-1740.50,0)">S</text>
<text x="1776.00" y="1465.00" text-anchor="middle" font-family="Liberation Mono" font-size="30" fill="#77771c" transform="translate(1776.00,0) scale(0.92,1) translate(-1776.00,0)">Q</text>
<text x="1811.50" y="1465.00" text-anchor="middle" font-family="Liberation Mono" font-size="30" fill="#77771c" transform="translate(1811.50,0) scale(0.92,1) translate(-1811.50,0)">L</text>
<text x="1847.00" y="1465.00" text-anchor="middle" font-family="Liberation Mono" font-size="30" fill="#77771c" transform="translate(1847.00,0) scale(0.92,1) translate(-1847.00,0)">D</text>
<text x="1882.50" y="1465.00" text-anchor="middle" font-family="Liberation Mono" font-size="30" fill="#77771c" transform="translate(1882.50,0) scale(0.92,1) translate(-1882.50,0)">G</text>
<text x="1918.00" y="1465.00" text-anchor="middle" font-family="Liberation Mono" font-size="30" fill="#77771c" transform="translate(1918.00,0) scale(0.92,1) translate(-1918.00,0)">V</text>
<text x="1953.50" y="1465.00" text-anchor="middle" font-family="Liberation Mono" font-size="30" fill="#77771c" transform="translate(1953.50,0) scale(0.92,1) translate(-1953.50,0)">D</text>
<text x="1989.00" y="1465.00" text-anchor="middle" font-family="Liberation Mono" font-size="30" fill="#77771c" transform="translate(1989.00,0) scale(0.92,1) translate(-1989.00,0)">D</text>
<text x="2024.50" y="1465.00" text-anchor="middle" font-family="Liberation Mono" font-size="30" fill="#77771c" transform="translate(2024.50,0) scale(0.92,1) translate(-2024.50,0)">G</text>
<text x="2060.00" y="1465.00" text-anchor="middle" font-family="Liberation Mono" font-size="30" fill="#77771c" transform="translate(2060.00,0) scale(0.92,1) translate(-2060.00,0)">T</text>
<text x="2095.50" y="1465.00" text-anchor="middle" font-family="Liberation Mono" font-size="30" fill="#77771c" transform="translate(2095.50,0) scale(0.92,1) translate(-2095.50,0)">E</text>
<text x="2131.00" y="1465.00" text-anchor="middle" font-family="Liberation Mono" font-size="30" fill="#77771c" transform="translate(2131.00,0) scale(0.92,1) translate(-2131.00,0)">S</text>
<text x="2166.50" y="1465.00" text-anchor="middle" font-family="Liberation Mono" font-size="30" fill="#77771c" transform="translate(2166.50,0) scale(0.92,1) translate(-2166.50,0)">D</text>
<text x="2202.00" y="1465.00" text-anchor="middle" font-family="Liberation Mono" font-size="30" fill="#77771c" transform="translate(2202.00,0) scale(0.92,1) translate(-2202.00,0)">T</text>
<text transform="translate(2271,1465.00) scale(0.9488,1)" font-family="Liberation Mono" font-size="31" fill="#787878">Mouse MLL</text>
<text x="1527.50" y="1499.00" text-anchor="middle" font-family="Liberation Mono" font-size="30" fill="#6f6f8f" transform="translate(1527.50,0) scale(0.92,1) translate(-1527.50,0)">L</text>
<text x="1563.00" y="1499.00" text-anchor="middle" font-family="Liberation Mono" font-size="30" fill="#77771c" transform="translate(1563.00,0) scale(0.92,1) translate(-1563.00,0)">G</text>
<text x="1598.50" y="1499.00" text-anchor="middle" font-family="Liberation Mono" font-size="30" fill="#77771c" transform="translate(1598.50,0) scale(0.92,1) translate(-1598.50,0)">K</text>
<text x="1634.00" y="1499.00" text-anchor="middle" font-family="Liberation Mono" font-size="30" fill="#77771c" transform="translate(1634.00,0) scale(0.92,1) translate(-1634.00,0)">P</text>
<text x="1669.50" y="1499.00" text-anchor="middle" font-family="Liberation Mono" font-size="30" fill="#6f6f8f" transform="translate(1669.50,0) scale(0.92,1) translate(-1669.50,0)">Q</text>
<text x="1705.00" y="1499.00" text-anchor="middle" font-family="Liberation Mono" font-size="30" fill="#77771c" transform="translate(1705.00,0) scale(0.92,1) translate(-1705.00,0)">I</text>
<text x="1740.50" y="1499.00" text-anchor="middle" font-family="Liberation Mono" font-size="30" fill="#6f6f8f" transform="translate(1740.50,0) scale(0.92,1) translate(-1740.50,0)">G</text>
<text x="1776.00" y="1499.00" text-anchor="middle" font-family="Liberation Mono" font-size="30" fill="#77771c" transform="translate(1776.00,0) scale(0.92,1) translate(-1776.00,0)">Q</text>
<text x="1811.50" y="1499.00" text-anchor="middle" font-family="Liberation Mono" font-size="30" fill="#77771c" transform="translate(1811.50,0) scale(0.92,1) translate(-1811.50,0)">L</text>
<text x="1847.00" y="1499.00" text-anchor="middle" font-family="Liberation Mono" font-size="30" fill="#77771c" transform="translate(1847.00,0) scale(0.92,1) translate(-1847.00,0)">D</text>
<text x="1882.50" y="1499.00" text-anchor="middle" font-family="Liberation Mono" font-size="30" fill="#77771c" transform="translate(1882.50,0) scale(0.92,1) translate(-1882.50,0)">G</text>
<text x="1918.00" y="1499.00" text-anchor="middle" font-family="Liberation Mono" font-size="30" fill="#77771c" transform="translate(1918.00,0) scale(0.92,1) translate(-1918.00,0)">V</text>
<text x="1953.50" y="1499.00" text-anchor="middle" font-family="Liberation Mono" font-size="30" fill="#77771c" transform="translate(1953.50,0) scale(0.92,1) translate(-1953.50,0)">D</text>
<text x="1989.00" y="1499.00" text-anchor="middle" font-family="Liberation Mono" font-size="30" fill="#77771c" transform="translate(1989.00,0) scale(0.92,1) translate(-1989.00,0)">D</text>
<text x="2024.50" y="1499.00" text-anchor="middle" font-family="Liberation Mono" font-size="30" fill="#77771c" transform="translate(2024.50,0) scale(0.92,1) translate(-2024.50,0)">G</text>
<text x="2060.00" y="1499.00" text-anchor="middle" font-family="Liberation Mono" font-size="30" fill="#6f6f8f" transform="translate(2060.00,0) scale(0.92,1) translate(-2060.00,0)">S</text>
<text x="2095.50" y="1499.00" text-anchor="middle" font-family="Liberation Mono" font-size="30" fill="#77771c" transform="translate(2095.50,0) scale(0.92,1) translate(-2095.50,0)">E</text>
<text x="2131.00" y="1499.00" text-anchor="middle" font-family="Liberation Mono" font-size="30" fill="#77771c" transform="translate(2131.00,0) scale(0.92,1) translate(-2131.00,0)">S</text>
<text x="2166.50" y="1499.00" text-anchor="middle" font-family="Liberation Mono" font-size="30" fill="#77771c" transform="translate(2166.50,0) scale(0.92,1) translate(-2166.50,0)">D</text>
<text x="2202.00" y="1499.00" text-anchor="middle" font-family="Liberation Mono" font-size="30" fill="#6f6f8f" transform="translate(2202.00,0) scale(0.92,1) translate(-2202.00,0)">A</text>
<text transform="translate(2271,1499.00) scale(0.9488,1)" font-family="Liberation Mono" font-size="31" fill="#787878">Pufferfish MLL</text>
<text x="1527.50" y="1533.00" text-anchor="middle" font-family="Liberation Mono" font-size="30" fill="#6f6f8f" transform="translate(1527.50,0) scale(0.92,1) translate(-1527.50,0)">F</text>
<text x="1563.00" y="1533.00" text-anchor="middle" font-family="Liberation Mono" font-size="30" fill="#6f6f8f" transform="translate(1563.00,0) scale(0.92,1) translate(-1563.00,0)">Q</text>
<text x="1598.50" y="1533.00" text-anchor="middle" font-family="Liberation Mono" font-size="30" fill="#77771c" transform="translate(1598.50,0) scale(0.92,1) translate(-1598.50,0)">K</text>
<text x="1634.00" y="1533.00" text-anchor="middle" font-family="Liberation Mono" font-size="30" fill="#6f6f8f" transform="translate(1634.00,0) scale(0.92,1) translate(-1634.00,0)">L</text>
<text x="1669.50" y="1533.00" text-anchor="middle" font-family="Liberation Mono" font-size="30" fill="#77771c" transform="translate(1669.50,0) scale(0.92,1) translate(-1669.50,0)">K</text>
<text x="1705.00" y="1533.00" text-anchor="middle" font-family="Liberation Mono" font-size="30" fill="#77771c" transform="translate(1705.00,0) scale(0.92,1) translate(-1705.00,0)">I</text>
<text x="1740.50" y="1533.00" text-anchor="middle" font-family="Liberation Mono" font-size="30" fill="#77771c" transform="translate(1740.50,0) scale(0.92,1) translate(-1740.50,0)">S</text>
<text x="1776.00" y="1533.00" text-anchor="middle" font-family="Liberation Mono" font-size="30" fill="#77771c" transform="translate(1776.00,0) scale(0.92,1) translate(-1776.00,0)">Q</text>
<text x="1811.50" y="1533.00" text-anchor="middle" font-family="Liberation Mono" font-size="30" fill="#77771c" transform="translate(1811.50,0) scale(0.92,1) translate(-1811.50,0)">L</text>
<text x="1847.00" y="1533.00" text-anchor="middle" font-family="Liberation Mono" font-size="30" fill="#77771c" transform="translate(1847.00,0) scale(0.92,1) translate(-1847.00,0)">D</text>
<text x="1882.50" y="1533.00" text-anchor="middle" font-family="Liberation Mono" font-size="30" fill="#77771c" transform="translate(1882.50,0) scale(0.92,1) translate(-1882.50,0)">G</text>
<text x="1918.00" y="1533.00" text-anchor="middle" font-family="Liberation Mono" font-size="30" fill="#77771c" transform="translate(1918.00,0) scale(0.92,1) translate(-1918.00,0)">V</text>
<text x="1953.50" y="1533.00" text-anchor="middle" font-family="Liberation Mono" font-size="30" fill="#77771c" transform="translate(1953.50,0) scale(0.92,1) translate(-1953.50,0)">D</text>
<text x="1989.00" y="1533.00" text-anchor="middle" font-family="Liberation Mono" font-size="30" fill="#77771c" transform="translate(1989.00,0) scale(0.92,1) translate(-1989.00,0)">D</text>
<text x="2024.50" y="1533.00" text-anchor="middle" font-family="Liberation Mono" font-size="30" fill="#6f6f8f" transform="translate(2024.50,0) scale(0.92,1) translate(-2024.50,0)">I</text>
<text x="2060.00" y="1533.00" text-anchor="middle" font-family="Liberation Mono" font-size="30" fill="#6f6f8f" transform="translate(2060.00,0) scale(0.92,1) translate(-2060.00,0)">C</text>
<text x="2095.50" y="1533.00" text-anchor="middle" font-family="Liberation Mono" font-size="30" fill="#6f6f8f" transform="translate(2095.50,0) scale(0.92,1) translate(-2095.50,0)">L</text>
<text x="2131.00" y="1533.00" text-anchor="middle" font-family="Liberation Mono" font-size="30" fill="#6f6f8f" transform="translate(2131.00,0) scale(0.92,1) translate(-2131.00,0)">D</text>
<text x="2166.50" y="1533.00" text-anchor="middle" font-family="Liberation Mono" font-size="30" fill="#6f6f8f" transform="translate(2166.50,0) scale(0.92,1) translate(-2166.50,0)">G</text>
<text x="2202.00" y="1533.00" text-anchor="middle" font-family="Liberation Mono" font-size="30" fill="#77771c" transform="translate(2202.00,0) scale(0.92,1) translate(-2202.00,0)">T</text>
<text transform="translate(2271,1533.00) scale(0.9488,1)" font-family="Liberation Mono" font-size="31" fill="#787878">Anopheles trithorax</text>
<text x="1527.50" y="1567.00" text-anchor="middle" font-family="Liberation Mono" font-size="30" fill="#6f6f8f" transform="translate(1527.50,0) scale(0.92,1) translate(-1527.50,0)">A</text>
<text x="1563.00" y="1567.00" text-anchor="middle" font-family="Liberation Mono" font-size="30" fill="#6f6f8f" transform="translate(1563.00,0) scale(0.92,1) translate(-1563.00,0)">A</text>
<text x="1598.50" y="1567.00" text-anchor="middle" font-family="Liberation Mono" font-size="30" fill="#77771c" transform="translate(1598.50,0) scale(0.92,1) translate(-1598.50,0)">K</text>
<text x="1634.00" y="1567.00" text-anchor="middle" font-family="Liberation Mono" font-size="30" fill="#6f6f8f" transform="translate(1634.00,0) scale(0.92,1) translate(-1634.00,0)">M</text>
<text x="1669.50" y="1567.00" text-anchor="middle" font-family="Liberation Mono" font-size="30" fill="#6f6f8f" transform="translate(1669.50,0) scale(0.92,1) translate(-1669.50,0)">R</text>
<text x="1705.00" y="1567.00" text-anchor="middle" font-family="Liberation Mono" font-size="30" fill="#77771c" transform="translate(1705.00,0) scale(0.92,1) translate(-1705.00,0)">I</text>
<text x="1740.50" y="1567.00" text-anchor="middle" font-family="Liberation Mono" font-size="30" fill="#6f6f8f" transform="translate(1740.50,0) scale(0.92,1) translate(-1740.50,0)">M</text>
<text x="1776.00" y="1567.00" text-anchor="middle" font-family="Liberation Mono" font-size="30" fill="#77771c" transform="translate(1776.00,0) scale(0.92,1) translate(-1776.00,0)">Q</text>
<text x="1811.50" y="1567.00" text-anchor="middle" font-family="Liberation Mono" font-size="30" fill="#6f6f8f" transform="translate(1811.50,0) scale(0.92,1) translate(-1811.50,0)">M</text>
<text x="1847.00" y="1567.00" text-anchor="middle" font-family="Liberation Mono" font-size="30" fill="#77771c" transform="translate(1847.00,0) scale(0.92,1) translate(-1847.00,0)">D</text>
<text x="1882.50" y="1567.00" text-anchor="middle" font-family="Liberation Mono" font-size="30" fill="#77771c" transform="translate(1882.50,0) scale(0.92,1) translate(-1882.50,0)">G</text>
<text x="1918.00" y="1567.00" text-anchor="middle" font-family="Liberation Mono" font-size="30" fill="#77771c" transform="translate(1918.00,0) scale(0.92,1) translate(-1918.00,0)">V</text>
<text x="1953.50" y="1567.00" text-anchor="middle" font-family="Liberation Mono" font-size="30" fill="#77771c" transform="translate(1953.50,0) scale(0.92,1) translate(-1953.50,0)">D</text>
<text x="1989.00" y="1567.00" text-anchor="middle" font-family="Liberation Mono" font-size="30" fill="#77771c" transform="translate(1989.00,0) scale(0.92,1) translate(-1989.00,0)">D</text>
<text x="2024.50" y="1567.00" text-anchor="middle" font-family="Liberation Mono" font-size="30" fill="#6f6f8f" transform="translate(2024.50,0) scale(0.92,1) translate(-2024.50,0)">S</text>
<text x="2060.00" y="1567.00" text-anchor="middle" font-family="Liberation Mono" font-size="30" fill="#6f6f8f" transform="translate(2060.00,0) scale(0.92,1) translate(-2060.00,0)">I</text>
<text x="2095.50" y="1567.00" text-anchor="middle" font-family="Liberation Mono" font-size="30" fill="#6f6f8f" transform="translate(2095.50,0) scale(0.92,1) translate(-2095.50,0)">T</text>
<text x="2131.00" y="1567.00" text-anchor="middle" font-family="Liberation Mono" font-size="30" fill="#6f6f8f" transform="translate(2131.00,0) scale(0.92,1) translate(-2131.00,0)">E</text>
<text x="2166.50" y="1567.00" text-anchor="middle" font-family="Liberation Mono" font-size="30" fill="#6f6f8f" transform="translate(2166.50,0) scale(0.92,1) translate(-2166.50,0)">F</text>
<text x="2202.00" y="1567.00" text-anchor="middle" font-family="Liberation Mono" font-size="30" fill="#6f6f8f" transform="translate(2202.00,0) scale(0.92,1) translate(-2202.00,0)">R</text>
<text transform="translate(2271,1567.00) scale(0.9488,1)" font-family="Liberation Mono" font-size="31" fill="#787878">Drosophila trithorax</text>
<text x="1527.50" y="1601.00" text-anchor="middle" font-family="Liberation Mono" font-size="30" fill="#6f6f8f" transform="translate(1527.50,0) scale(0.92,1) translate(-1527.50,0)">P</text>
<text x="1563.00" y="1601.00" text-anchor="middle" font-family="Liberation Mono" font-size="30" fill="#77771c" transform="translate(1563.00,0) scale(0.92,1) translate(-1563.00,0)">G</text>
<text x="1598.50" y="1601.00" text-anchor="middle" font-family="Liberation Mono" font-size="30" fill="#6f6f8f" transform="translate(1598.50,0) scale(0.92,1) translate(-1598.50,0)">A</text>
<text x="1634.00" y="1601.00" text-anchor="middle" font-family="Liberation Mono" font-size="30" fill="#77771c" transform="translate(1634.00,0) scale(0.92,1) translate(-1634.00,0)">P</text>
<text x="1669.50" y="1601.00" text-anchor="middle" font-family="Liberation Mono" font-size="30" fill="#6f6f8f" transform="translate(1669.50,0) scale(0.92,1) translate(-1669.50,0)">R</text>
<text x="1705.00" y="1601.00" text-anchor="middle" font-family="Liberation Mono" font-size="30" fill="#77771c" transform="translate(1705.00,0) scale(0.92,1) translate(-1705.00,0)">I</text>
<text x="1740.50" y="1601.00" text-anchor="middle" font-family="Liberation Mono" font-size="30" fill="#6f6f8f" transform="translate(1740.50,0) scale(0.92,1) translate(-1740.50,0)">E</text>
<text x="1776.00" y="1601.00" text-anchor="middle" font-family="Liberation Mono" font-size="30" fill="#77771c" transform="translate(1776.00,0) scale(0.92,1) translate(-1776.00,0)">Q</text>
<text x="1811.50" y="1601.00" text-anchor="middle" font-family="Liberation Mono" font-size="30" fill="#77771c" transform="translate(1811.50,0) scale(0.92,1) translate(-1811.50,0)">L</text>
<text x="1847.00" y="1601.00" text-anchor="middle" font-family="Liberation Mono" font-size="30" fill="#77771c" transform="translate(1847.00,0) scale(0.92,1) translate(-1847.00,0)">D</text>
<text x="1882.50" y="1601.00" text-anchor="middle" font-family="Liberation Mono" font-size="30" fill="#77771c" transform="translate(1882.50,0) scale(0.92,1) translate(-1882.50,0)">G</text>
<text x="1918.00" y="1601.00" text-anchor="middle" font-family="Liberation Mono" font-size="30" fill="#77771c" transform="translate(1918.00,0) scale(0.92,1) translate(-1918.00,0)">V</text>
<text x="1953.50" y="1601.00" text-anchor="middle" font-family="Liberation Mono" font-size="30" fill="#77771c" transform="translate(1953.50,0) scale(0.92,1) translate(-1953.50,0)">D</text>
<text x="1989.00" y="1601.00" text-anchor="middle" font-family="Liberation Mono" font-size="30" fill="#77771c" transform="translate(1989.00,0) scale(0.92,1) translate(-1989.00,0)">D</text>
<text x="2024.50" y="1601.00" text-anchor="middle" font-family="Liberation Mono" font-size="30" fill="#77771c" transform="translate(2024.50,0) scale(0.92,1) translate(-2024.50,0)">G</text>
<text x="2060.00" y="1601.00" text-anchor="middle" font-family="Liberation Mono" font-size="30" fill="#77771c" transform="translate(2060.00,0) scale(0.92,1) translate(-2060.00,0)">T</text>
<text x="2095.50" y="1601.00" text-anchor="middle" font-family="Liberation Mono" font-size="30" fill="#6f6f8f" transform="translate(2095.50,0) scale(0.92,1) translate(-2095.50,0)">D</text>
<text x="2131.00" y="1601.00" text-anchor="middle" font-family="Liberation Mono" font-size="30" fill="#77771c" transform="translate(2131.00,0) scale(0.92,1) translate(-2131.00,0)">S</text>
<text x="2166.50" y="1601.00" text-anchor="middle" font-family="Liberation Mono" font-size="30" fill="#6f6f8f" transform="translate(2166.50,0) scale(0.92,1) translate(-2166.50,0)">E</text>
<text x="2202.00" y="1601.00" text-anchor="middle" font-family="Liberation Mono" font-size="30" fill="#6f6f8f" transform="translate(2202.00,0) scale(0.92,1) translate(-2202.00,0)">A</text>
<text transform="translate(2271,1601.00) scale(0.9488,1)" font-family="Liberation Mono" font-size="31" fill="#787878">Human MLL2</text>
<rect x="1831.5" y="1406" width="177.0" height="205" fill="none" stroke="#6b6b18" stroke-width="2" />
</svg>
</body></html>
